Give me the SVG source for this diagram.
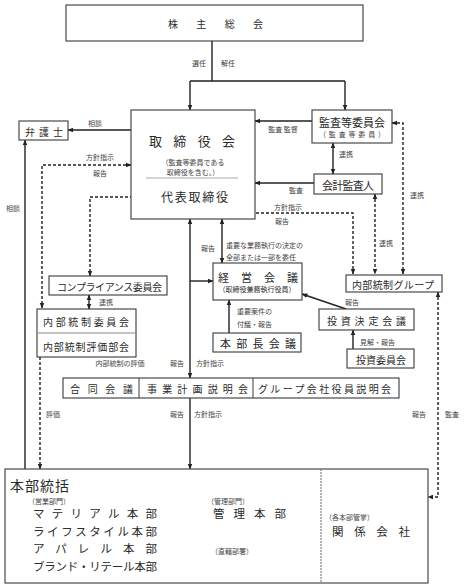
<svg xmlns="http://www.w3.org/2000/svg" width="464" height="586" viewBox="0 0 464 586">
<style>
text{font-family:"Noto Sans CJK JP","Noto Sans",sans-serif;fill:#2a2a2a;dominant-baseline:central}
.box{fill:#fff;stroke:#3a3a3a;stroke-width:1.1}
.ln{fill:none;stroke:#222;stroke-width:1.4}
.ds{fill:none;stroke:#222;stroke-width:1.4;stroke-dasharray:3 2}
.s{font-size:7px;fill:#444}
.m{font-size:10px}
.l{font-size:11px}
</style>
<defs>
<marker id="a" viewBox="0 0 10 10" refX="9" refY="5" markerWidth="6" markerHeight="6" orient="auto-start-reverse" markerUnits="userSpaceOnUse"><path d="M0,1 L10,5 L0,9z" fill="#222"/></marker>
</defs>
<rect width="464" height="586" fill="#fff"/>

<g id="connectors">
<path class="ln" d="M212,41 V81 M190,81 H345"/>
<path class="ln" d="M190,81 V110" marker-end="url(#a)"/>
<path class="ln" d="M345,81 V110" marker-end="url(#a)"/>
<path class="ln" d="M131,130 H68" marker-end="url(#a)"/>
<path class="ln" d="M312,121 H255" marker-end="url(#a)"/>
<path class="ln" d="M314,183 H255" marker-end="url(#a)"/>
<path class="ln" d="M333,143 V174" marker-start="url(#a)" marker-end="url(#a)"/>
<path class="ds" d="M131,165 H42 V308" marker-start="url(#a)" marker-end="url(#a)"/>
<path class="ds" d="M153,197 H90 V276" marker-start="url(#a)" marker-end="url(#a)"/>
<path class="ds" d="M205,204 V213 H353 V274" marker-start="url(#a)" marker-end="url(#a)"/>
<path class="ds" d="M375,194 V274" marker-start="url(#a)" marker-end="url(#a)"/>
<path class="ds" d="M392,123 H403 V274" marker-start="url(#a)" marker-end="url(#a)"/>
<path class="ln" d="M190,219 V378" marker-start="url(#a)" marker-end="url(#a)"/>
<path class="ln" d="M190,281 H213" marker-end="url(#a)"/>
<path class="ln" d="M222,219 V263" marker-start="url(#a)" marker-end="url(#a)"/>
<path class="ln" d="M229,333 V300" marker-end="url(#a)"/>
<path class="ln" d="M346,309 L302,294" marker-end="url(#a)"/>
<path class="ln" d="M353,349 V330" marker-end="url(#a)"/>
<path class="ds" d="M438,292 V497 H428" marker-start="url(#a)" marker-end="url(#a)"/>
<path class="ln" d="M25,469 V140" marker-end="url(#a)"/>
<path class="ds" d="M40,357 V469" marker-end="url(#a)"/>
<path class="ln" d="M190,398 V469" marker-end="url(#a)"/>
<path class="ln" d="M89,295 V309" marker-start="url(#a)" marker-end="url(#a)"/>
<text class="s" x="199" y="63" text-anchor="middle">選任</text>
<text class="s" x="228" y="63" text-anchor="middle">解任</text>
<text class="s" x="95" y="123" text-anchor="middle">相談</text>
<text class="s" x="283" y="129" text-anchor="middle">監査 監督</text>
<text class="s" x="296" y="190" text-anchor="middle">監査</text>
<text class="s" x="346" y="154" text-anchor="middle">連携</text>
<text class="s" x="100" y="157" text-anchor="middle">方針指示</text>
<text class="s" x="100" y="173" text-anchor="middle">報告</text>
<text class="s" x="288" y="207" text-anchor="middle">方針指示</text>
<text class="s" x="282" y="221" text-anchor="middle">報告</text>
<text class="s" x="386" y="243" text-anchor="middle">連携</text>
<text class="s" x="417" y="195" text-anchor="middle">連携</text>
<text class="s" x="13" y="208" text-anchor="middle">相談</text>
<text class="s" x="208" y="248" text-anchor="middle">報告</text>
<text class="s" x="226" y="245">重要な業務執行の決定の</text>
<text class="s" x="226" y="257">全部または一部を委任</text>
<text class="s" x="237" y="311">重要案件の</text>
<text class="s" x="237" y="324">付議・報告</text>
<text class="s" x="352" y="302" text-anchor="middle">報告</text>
<text class="s" x="360" y="342">見解・報告</text>
<text class="s" x="106" y="302" text-anchor="middle">連携</text>
<text class="s" x="120" y="363" text-anchor="middle">内部統制の評価</text>
<text class="s" x="177" y="363" text-anchor="middle">報告</text>
<text class="s" x="210" y="363" text-anchor="middle">方針指示</text>
<text class="s" x="53" y="414" text-anchor="middle">評価</text>
<text class="s" x="177" y="414" text-anchor="middle">報告</text>
<text class="s" x="208" y="414" text-anchor="middle">方針指示</text>
<text class="s" x="419" y="414" text-anchor="middle">報告</text>
<text class="s" x="452" y="414" text-anchor="middle">監査</text>
</g>

<g id="shareholders">
<rect class="box" x="66" y="5" width="297" height="36"/>
<text class="m" x="168" y="23" textLength="95" lengthAdjust="spacing">株主総会</text>
</g>

<g id="board">
<rect class="box" x="131" y="110" width="124" height="109"/>
<text x="149" y="140" font-size="13" textLength="86" lengthAdjust="spacing">取締役会</text>
<text class="s" x="193" y="162" text-anchor="middle">（監査等委員である</text>
<text class="s" x="193" y="172" text-anchor="middle">取締役を含む。）</text>
<line x1="146" y1="178" x2="238" y2="178" stroke="#aaa" stroke-width="1"/>
<text x="161" y="196" font-size="12" textLength="67" lengthAdjust="spacing">代表取締役</text>
</g>

<g id="lawyer">
<rect class="box" x="19" y="121" width="49" height="19"/>
<text class="m" x="25" y="131" textLength="38" lengthAdjust="spacing">弁護士</text>
</g>

<g id="audit-committee">
<rect class="box" x="312" y="110" width="80" height="33"/>
<text class="l" x="319" y="122" textLength="66" lengthAdjust="spacing">監査等委員会</text>
<text class="s" x="319" y="134" textLength="66" lengthAdjust="spacing">（監査等委員）</text>
</g>

<g id="accounting-auditor">
<rect class="box" x="314" y="174" width="68" height="20"/>
<text class="l" x="322" y="185" textLength="52" lengthAdjust="spacing">会計監査人</text>
</g>

<g id="compliance">
<rect class="box" x="49" y="276" width="118" height="19"/>
<text class="m" x="57" y="286" textLength="105" lengthAdjust="spacing">コンプライアンス委員会</text>
</g>

<g id="internal-control-committee">
<rect class="box" x="37" y="309" width="99" height="48"/>
<line x1="37" y1="333" x2="136" y2="333" stroke="#888" stroke-width="1"/>
<text class="m" x="43" y="321" textLength="86" lengthAdjust="spacing">内部統制委員会</text>
<text class="m" x="43" y="346" textLength="86" lengthAdjust="spacing">内部統制評価部会</text>
</g>

<g id="management-council">
<rect class="box" x="213" y="263" width="89" height="37"/>
<text class="l" x="218" y="277" textLength="80" lengthAdjust="spacing">経営会議</text>
<text x="257" y="289" font-size="7" text-anchor="middle">（取締役兼務執行役員）</text>
</g>

<g id="division-heads">
<rect class="box" x="213" y="333" width="88" height="19"/>
<text class="l" x="220" y="343" textLength="76" lengthAdjust="spacing">本部長会議</text>
</g>

<g id="internal-control-group">
<rect class="box" x="346" y="275" width="96" height="17"/>
<text class="m" x="352" y="284" textLength="82" lengthAdjust="spacing">内部統制グループ</text>
</g>

<g id="investment-decision">
<rect class="box" x="319" y="309" width="95" height="21"/>
<text class="m" x="327" y="320" textLength="79" lengthAdjust="spacing">投資決定会議</text>
</g>

<g id="investment-committee">
<rect class="box" x="347" y="349" width="67" height="19"/>
<text class="m" x="356" y="359" textLength="50" lengthAdjust="spacing">投資委員会</text>
</g>

<g id="meetings">
<rect class="box" x="63" y="378" width="336" height="20"/>
<line x1="139" y1="378" x2="139" y2="398" stroke="#3a3a3a"/>
<line x1="253" y1="378" x2="253" y2="398" stroke="#3a3a3a"/>
<text class="m" x="70" y="388" textLength="63" lengthAdjust="spacing">合同会議</text>
<text class="m" x="147" y="388" textLength="101" lengthAdjust="spacing">事業計画説明会</text>
<text class="m" x="258" y="388" textLength="133" lengthAdjust="spacing">グループ会社役員説明会</text>
</g>

<g id="headquarters">
<rect class="box" x="5" y="469" width="423" height="114"/>
<line x1="321" y1="469" x2="321" y2="583" stroke="#666" stroke-dasharray="2 1"/>
<text x="10" y="485" font-size="14" textLength="59" lengthAdjust="spacing">本部統括</text>
<text class="s" x="28" y="501">（営業部門）</text>
<text font-size="11.5" x="33" y="513" textLength="124" lengthAdjust="spacing">マテリアル本部</text>
<text font-size="11.5" x="33" y="531" textLength="124" lengthAdjust="spacing">ライフスタイル本部</text>
<text font-size="11.5" x="33" y="548" textLength="124" lengthAdjust="spacing">アパレル本部</text>
<text font-size="11.5" x="33" y="566" textLength="124" lengthAdjust="spacing">ブランド・リテール本部</text>
<text class="s" x="207" y="501">（管理部門）</text>
<text font-size="11.5" x="213" y="513" textLength="73" lengthAdjust="spacing">管理本部</text>
<text class="s" x="211" y="551">（直轄部署）</text>
<text class="s" x="325" y="517">（各本部管掌）</text>
<text font-size="11.5" x="332" y="531" textLength="78" lengthAdjust="spacing">関係会社</text>
</g>
</svg>
